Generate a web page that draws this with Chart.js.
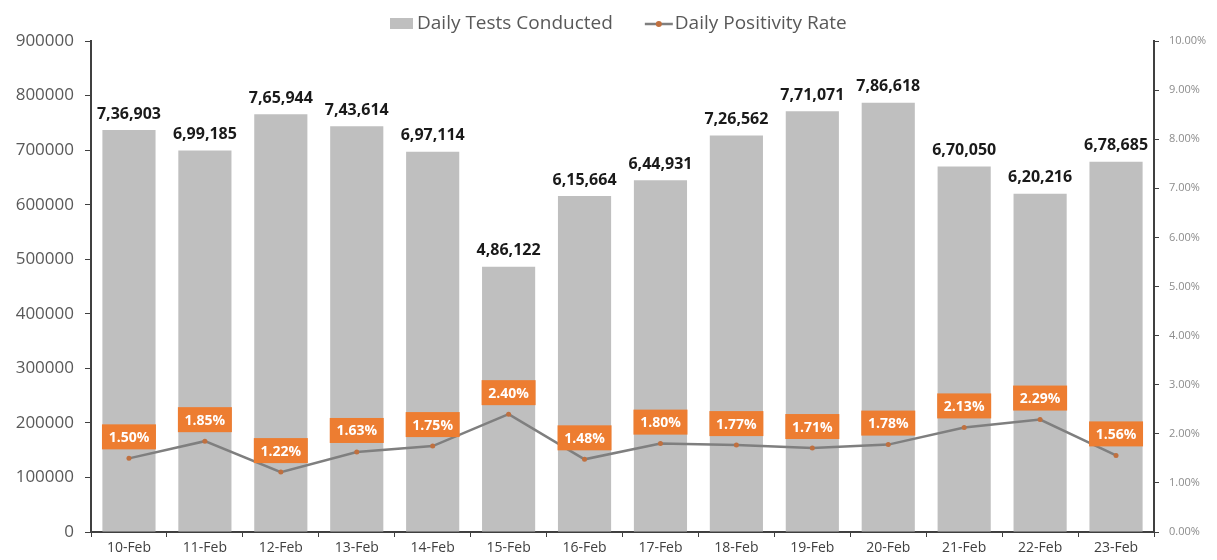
<!DOCTYPE html>
<html>
<head>
<meta charset="utf-8">
<script src="https://cdn.jsdelivr.net/npm/chart.js@4.4.1/dist/chart.umd.min.js"></script>
<style>
html,body{margin:0;padding:0;background:#fff;}
#wrap{width:1217px;height:560px;position:relative;}
</style>
</head>
<body>
<div id="wrap"><canvas id="c" width="1217" height="560"></canvas></div>
<script>
const categories = ['10-Feb','11-Feb','12-Feb','13-Feb','14-Feb','15-Feb','16-Feb','17-Feb','18-Feb','19-Feb','20-Feb','21-Feb','22-Feb','23-Feb'];
const dailyTests = [736903, 699185, 765944, 743614, 697114, 486122, 615664, 644931, 726562, 771071, 786618, 670050, 620216, 678685];
const positivityRate = [1.50, 1.85, 1.22, 1.63, 1.75, 2.40, 1.48, 1.80, 1.77, 1.71, 1.78, 2.13, 2.29, 1.56];
const leftTicks = [0, 100000, 200000, 300000, 400000, 500000, 600000, 700000, 800000, 900000];
const rightTicks = [0, 1, 2, 3, 4, 5, 6, 7, 8, 9, 10];
const seriesNames = ['Daily Tests Conducted', 'Daily Positivity Rate'];

const BAR_COLOR = '#bfbfbf';
const LINE_COLOR = '#7f7f7f';
const POINT_COLOR = '#c0703f';
const ORANGE = '#ed7d31';
const FONT = "'Open Sans', 'Liberation Sans', sans-serif";

function indianFormat(n) {
  const s = String(Math.round(n));
  if (s.length <= 3) return s;
  const last3 = s.slice(-3);
  let rest = s.slice(0, -3);
  const parts = [];
  while (rest.length > 2) { parts.unshift(rest.slice(-2)); rest = rest.slice(0, -2); }
  if (rest.length) parts.unshift(rest);
  return parts.join(',') + ',' + last3;
}

const legendPlugin = {
  id: 'customLegend',
  afterDraw(chart) {
    const ctx = chart.ctx;
    ctx.save();
    ctx.font = "19px " + FONT;
    ctx.textBaseline = 'middle';
    ctx.textAlign = 'left';
    const cy = 24;
    ctx.fillStyle = BAR_COLOR;
    ctx.fillRect(390, cy - 6, 23, 11);
    ctx.fillStyle = '#595959';
    ctx.fillText(chart.data.datasets[0].label, 417, cy);
    const w0 = ctx.measureText(chart.data.datasets[0].label).width;
    const lx = 417 + w0 + 32;
    ctx.strokeStyle = LINE_COLOR; ctx.lineWidth = 2.5;
    ctx.beginPath(); ctx.moveTo(lx, cy); ctx.lineTo(lx + 28, cy); ctx.stroke();
    ctx.fillStyle = POINT_COLOR;
    ctx.beginPath(); ctx.arc(lx + 14, cy, 3, 0, Math.PI * 2); ctx.fill();
    ctx.fillStyle = '#595959';
    ctx.fillText(chart.data.datasets[1].label, lx + 30, cy);
    ctx.restore();
  }
};

const labelsPlugin = {
  id: 'valueLabels',
  afterDatasetsDraw(chart) {
    const ctx = chart.ctx;
    const barMeta = chart.getDatasetMeta(0);
    const lineMeta = chart.getDatasetMeta(1);
    ctx.save();
    ctx.textAlign = 'center';
    ctx.textBaseline = 'middle';
    ctx.fillStyle = '#1a1a1a';
    ctx.font = "bold 16px " + FONT;
    barMeta.data.forEach((el, i) => {
      ctx.fillText(indianFormat(dailyTests[i]), el.x, el.y - 16);
    });
    ctx.font = "bold 14px " + FONT;
    lineMeta.data.forEach((el, i) => {
      const w = 54, h = 25;
      const cy = el.y - 9 - h / 2;
      ctx.fillStyle = ORANGE;
      ctx.fillRect(el.x - w / 2, cy - h / 2, w, h);
      ctx.fillStyle = '#ffffff';
      ctx.fillText(positivityRate[i].toFixed(2) + '%', el.x, cy + 1);
    });
    ctx.restore();
  }
};

new Chart(document.getElementById('c'), {
  type: 'bar',
  data: {
    labels: categories,
    datasets: [
      {
        type: 'bar',
        label: seriesNames[0],
        data: dailyTests,
        backgroundColor: BAR_COLOR,
        yAxisID: 'y',
        order: 1,
        barPercentage: 0.7,
        categoryPercentage: 1.0
      },
      {
        type: 'line',
        label: seriesNames[1],
        data: positivityRate,
        borderColor: LINE_COLOR,
        borderWidth: 2.5,
        pointRadius: 2.5,
        pointBackgroundColor: POINT_COLOR,
        pointBorderWidth: 0,
        tension: 0,
        yAxisID: 'y1',
        order: 0
      }
    ]
  },
  options: {
    responsive: false,
    animation: false,
    devicePixelRatio: 1,
    layout: { padding: { top: 41, left: 2, right: 0, bottom: 0 } },
    plugins: {
      tooltip: { enabled: false },
      legend: { display: false }
    },
    scales: {
      x: {
        grid: { display: true, drawOnChartArea: false, drawTicks: true, tickLength: 5, color: '#404040', offset: true },
        border: { display: true, color: '#404040', width: 2 },
        ticks: { color: '#404040', font: { family: FONT, size: 14 }, padding: 3, maxRotation: 0, autoSkip: false },
        afterFit(s) { s.height = 28; }
      },
      y: {
        position: 'left',
        min: 0, max: 900000,
        afterBuildTicks(s) { s.ticks = leftTicks.map(v => ({ value: v })); },
        grid: { display: true, drawOnChartArea: false, tickLength: 6, color: '#404040' },
        border: { display: true, color: '#404040', width: 2 },
        ticks: { color: '#595959', font: { family: FONT, size: 17 }, padding: 11, callback: v => String(v) },
        afterFit(s) { s.width = 89; }
      },
      y1: {
        position: 'right',
        min: 0, max: 10,
        afterBuildTicks(s) { s.ticks = rightTicks.map(v => ({ value: v })); },
        grid: { display: true, drawOnChartArea: false, tickLength: 5, color: '#404040' },
        border: { display: true, color: '#404040', width: 2 },
        ticks: { color: '#8c8c8c', font: { family: FONT, size: 11 }, padding: 10, callback: v => v.toFixed(2) + '%' },
        afterFit(s) { s.width = 63; }
      }
    }
  },
  plugins: [labelsPlugin, legendPlugin]
});
</script>
</body>
</html>
